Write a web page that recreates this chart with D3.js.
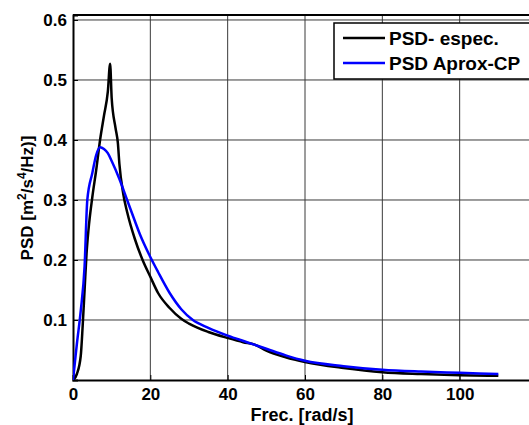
<!DOCTYPE html>
<meta charset="utf-8">
<style>
  body { margin: 0; background: #fff; }
  svg { display: block; font-family: "Liberation Sans", Arial, sans-serif; font-weight: bold; }
  .grid line { stroke: #3a3a3a; stroke-width: 1px; }
  .line { fill: none; stroke-width: 2.5px; stroke-linejoin: round; }
</style>
<svg width="529" height="425"></svg>
<script src="https://d3js.org/d3.v7.min.js"></script>
<script>

// frequency [rad/s] and PSD values
var freqEspec = [0, 1, 2, 2.5, 3, 3.5, 4, 5, 6, 7, 8, 9, 9.6, 10, 11, 11.6, 12, 13, 14, 16, 18, 20, 22, 25, 28, 30, 35, 40, 44, 47, 50, 55, 60, 70, 80, 90, 100, 110];
var psdEspec  = [0, 0.01, 0.04, 0.09, 0.15, 0.21, 0.25, 0.305, 0.35, 0.40, 0.44, 0.48, 0.527, 0.47, 0.42, 0.395, 0.36, 0.31, 0.28, 0.235, 0.20, 0.172, 0.145, 0.12, 0.102, 0.094, 0.080, 0.070, 0.063, 0.059, 0.049, 0.038, 0.030, 0.020, 0.013, 0.010, 0.008, 0.007];

var freqAprox = [0, 0.5, 1, 2, 3, 3.7, 5, 6, 7, 8, 9, 10, 12, 14, 16, 17.3, 20, 22, 25, 28, 31, 35, 40, 45, 50, 55, 60, 70, 80, 90, 100, 110];
var psdAprox  = [0, 0.03, 0.06, 0.115, 0.19, 0.30, 0.345, 0.375, 0.388, 0.385, 0.378, 0.365, 0.335, 0.30, 0.265, 0.243, 0.205, 0.18, 0.145, 0.118, 0.10, 0.087, 0.074, 0.063, 0.052, 0.041, 0.032, 0.023, 0.017, 0.014, 0.012, 0.010];

var xTicks = [0, 20, 40, 60, 80, 100];
var yTicks = [0.1, 0.2, 0.3, 0.4, 0.5, 0.6];
var seriesNames = ["PSD- espec.", "PSD Aprox-CP"];
var seriesColors = ["#000000", "#0000ff"];

var svg = d3.select("svg"),
    plot = {left: 73, right: 537, top: 15, bottom: 380};

var x = d3.scaleLinear().domain([0, 120]).range([plot.left, plot.right]);
var y = d3.scaleLinear().domain([0, 0.6083]).range([plot.bottom, plot.top]);

svg.append("defs").append("clipPath")
    .attr("id", "clip")
  .append("rect")
    .attr("x", plot.left)
    .attr("y", plot.top)
    .attr("width", plot.right - plot.left)
    .attr("height", plot.bottom - plot.top);

// grid
var grid = svg.append("g").attr("class", "grid");
grid.selectAll(".gx")
    .data(xTicks.filter(function(d) { return d > 0; }))
  .enter().append("line")
    .attr("x1", function(d) { return x(d); })
    .attr("x2", function(d) { return x(d); })
    .attr("y1", plot.top)
    .attr("y2", plot.bottom);
grid.selectAll(".gy")
    .data(yTicks)
  .enter().append("line")
    .attr("x1", plot.left)
    .attr("x2", plot.right)
    .attr("y1", function(d) { return y(d); })
    .attr("y2", function(d) { return y(d); });

// axes
var xAxis = d3.axisBottom(x).tickValues(xTicks).tickSize(-5).tickPadding(8).tickFormat(d3.format("d"));
var yAxis = d3.axisLeft(y).tickValues(yTicks).tickSize(-5).tickPadding(6).tickFormat(d3.format(".1f"));

function styleAxis(g) {
  g.select(".domain").attr("stroke-width", 2);
  g.selectAll("text").attr("font-size", 17).attr("font-family", null).attr("font-weight", "bold").attr("fill", "#000");
}

svg.append("g")
    .attr("transform", "translate(0," + plot.bottom + ")")
    .call(xAxis)
    .call(styleAxis);

svg.append("g")
    .attr("transform", "translate(" + plot.left + ",0)")
    .call(yAxis)
    .call(styleAxis);

// top border
svg.append("line")
    .attr("x1", plot.left).attr("x2", plot.right)
    .attr("y1", plot.top).attr("y2", plot.top)
    .attr("stroke", "#000").attr("stroke-width", 2);

// curves
var lineGen = d3.line()
    .curve(d3.curveMonotoneX)
    .x(function(d) { return x(d[0]); })
    .y(function(d) { return y(d[1]); });

var lines = svg.append("g").attr("clip-path", "url(#clip)");
lines.append("path")
    .datum(d3.zip(freqEspec, psdEspec))
    .attr("class", "line")
    .attr("stroke", seriesColors[0])
    .attr("d", lineGen);
lines.append("path")
    .datum(d3.zip(freqAprox, psdAprox))
    .attr("class", "line")
    .attr("stroke", seriesColors[1])
    .attr("d", lineGen);

// labels
svg.append("text")
    .attr("x", 302)
    .attr("y", 421)
    .attr("text-anchor", "middle")
    .attr("font-size", 18)
    .text("Frec. [rad/s]");

var ylab = svg.append("text")
    .attr("transform", "translate(33,198) rotate(-90)")
    .attr("text-anchor", "middle")
    .attr("font-size", 17);
ylab.append("tspan").text("PSD [m");
ylab.append("tspan").attr("dy", -7).attr("font-size", 12).text("2");
ylab.append("tspan").attr("dy", 7).text("/s");
ylab.append("tspan").attr("dy", -7).attr("font-size", 12).text("4");
ylab.append("tspan").attr("dy", 7).text("/Hz)]");

// legend
var legend = svg.append("g");
legend.append("rect")
    .attr("x", 334).attr("y", 23)
    .attr("width", 210).attr("height", 56)
    .attr("fill", "#fff").attr("stroke", "#000").attr("stroke-width", 1.5);

var items = legend.selectAll(".item")
    .data(seriesNames)
  .enter().append("g")
    .attr("transform", function(d, i) { return "translate(0," + (38 + i * 25) + ")"; });
items.append("line")
    .attr("x1", 343).attr("x2", 385)
    .attr("stroke", function(d, i) { return seriesColors[i]; })
    .attr("stroke-width", 2.5);
items.append("text")
    .attr("x", 389)
    .attr("y", 6.5)
    .attr("font-size", 19)
    .text(function(d) { return d; });

</script>
